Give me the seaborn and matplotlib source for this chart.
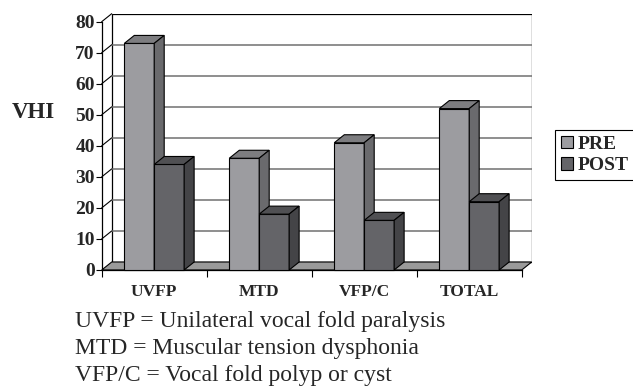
import matplotlib
matplotlib.use("Agg")
import numpy as np
import pandas as pd
import seaborn as sns
import matplotlib.pyplot as plt
from matplotlib.patches import Polygon, Rectangle, Patch
from matplotlib.colors import to_rgb

# Voice Handicap Index before and after treatment, per diagnosis group
groups = ["UVFP", "MTD", "VFP/C", "TOTAL"]
pre_vhi = [73, 36, 41, 52]
post_vhi = [34, 18, 16, 22]
phases = ["PRE", "POST"]
phase_colors = ["#9c9ca0", "#646468"]
y_ticks = [0, 10, 20, 30, 40, 50, 60, 70, 80]
footnotes = [
    "UVFP = Unilateral vocal fold paralysis",
    "MTD = Muscular tension dysphonia",
    "VFP/C = Vocal fold polyp or cyst",
]

df = pd.DataFrame({
    "group": groups * 2,
    "phase": [phases[0]] * len(groups) + [phases[1]] * len(groups),
    "vhi": pre_vhi + post_vhi,
})
palette = dict(zip(phases, phase_colors))

sns.set_theme(style="white")
plt.rcParams["font.family"] = ["Liberation Serif", "DejaVu Serif"]

W, H = 633, 389
fig = plt.figure(figsize=(W / 100, H / 100), dpi=100)
fig.patch.set_facecolor("white")

# pseudo-3D frame: front plane plus a receding depth offset (pixels)
front_left, front_right = 101.7, 521.7
floor_y, top_y = 270.0, 21.7
depth_dx, depth_dy = 10.0, 8.0
n = len(groups)
ymax = y_ticks[-1]
cat_px = (front_right - front_left) / n
unit_px = (floor_y - top_y) / ymax
ddx = depth_dx / cat_px
ddy = depth_dy / unit_px

ax = fig.add_axes([
    front_left / W,
    (H - floor_y) / H,
    (front_right + depth_dx - front_left) / W,
    (floor_y - (top_y - depth_dy)) / H,
])
ax.set_facecolor("none")

sns.barplot(
    data=df, x="group", y="vhi", hue="phase", hue_order=phases,
    palette=palette, width=0.57, saturation=1, edgecolor="black",
    linewidth=0.8, legend=False, ax=ax,
)
bars = sorted(ax.patches, key=lambda p: p.get_x())

ax.set_xlim(-0.5, n - 0.5 + ddx)
ax.set_ylim(0, ymax + ddy)

# back wall with gridlines
ax.add_patch(Rectangle((-0.5 + ddx, ddy), n, ymax, facecolor="white",
                       edgecolor="black", lw=0.9, zorder=0.5))
ax.hlines([v + ddy for v in y_ticks[1:-1]], -0.5 + ddx, n - 0.5 + ddx,
          color="#707070", lw=1.1, zorder=0.6)
# side wall edges
for v in y_ticks[1:]:
    ax.plot([-0.5, -0.5 + ddx], [v, v + ddy], color="black", lw=0.8,
            zorder=0.7, clip_on=False)
# floor
ax.add_patch(Polygon([(-0.5, 0), (n - 0.5, 0), (n - 0.5 + ddx, ddy),
                      (-0.5 + ddx, ddy)], closed=True, facecolor="#9a9a9a",
                     edgecolor="black", lw=0.8, zorder=0.8, clip_on=False))


def shade(c, f):
    r, g, b = to_rgb(c)
    return (r * f, g * f, b * f)


# give each bar a top and a side face
for i, bar in enumerate(bars):
    x0, w, h = bar.get_x(), bar.get_width(), bar.get_height()
    fc = bar.get_facecolor()
    z = 2 + i
    bar.set_zorder(z)
    bar.set_clip_on(False)
    top = Polygon([(x0, h), (x0 + w, h), (x0 + w + ddx, h + ddy),
                   (x0 + ddx, h + ddy)], closed=True,
                  facecolor=shade(fc, 0.8), edgecolor="black", lw=0.8,
                  zorder=z, clip_on=False)
    side = Polygon([(x0 + w, 0), (x0 + w + ddx, ddy), (x0 + w + ddx, h + ddy),
                    (x0 + w, h)], closed=True, facecolor=shade(fc, 0.68),
                   edgecolor="black", lw=0.8, zorder=z, clip_on=False)
    ax.add_patch(top)
    ax.add_patch(side)

# axes lines and ticks
for s in ["top", "right"]:
    ax.spines[s].set_visible(False)
ax.spines["left"].set_bounds(0, ymax)
ax.spines["bottom"].set_bounds(-0.5, n - 0.5)
for s in ["left", "bottom"]:
    ax.spines[s].set_color("black")
    ax.spines[s].set_linewidth(0.9)
    ax.spines[s].set_zorder(1)

ax.set_yticks(y_ticks)
ax.set_yticklabels([str(v) for v in y_ticks], fontsize=14, fontweight="bold")
ax.set_xticks(range(n))
ax.set_xticklabels(groups, fontsize=12.5, fontweight="bold")
ax.set_xticks(np.arange(-0.5, n, 1.0), minor=True)
ax.tick_params(axis="y", left=True, direction="out", length=4, width=0.8,
               color="black", pad=1)
ax.tick_params(axis="x", which="major", bottom=True, length=0, pad=10)
ax.tick_params(axis="x", which="minor", bottom=True, direction="out",
               length=5, width=0.8, color="black")
ax.set_xlabel("")
ax.set_ylabel("")
ax.grid(False)

fig.text(12 / W, 1 - 112 / H, "VHI", fontsize=16.5, fontweight="bold",
         ha="left", va="center")

handles = [Patch(facecolor=palette[p], edgecolor="black", lw=0.8, label=p)
           for p in phases]
leg = fig.legend(handles=handles, loc="center left",
                 bbox_to_anchor=(555 / W, 1 - 155 / H), frameon=True,
                 fancybox=False, framealpha=1, edgecolor="black",
                 borderpad=0.3, handlelength=0.6, handleheight=0.6,
                 handletextpad=0.25, labelspacing=0.25, borderaxespad=0,
                 prop={"weight": "bold", "size": 14})
leg.get_frame().set_linewidth(0.8)

for k, line in enumerate(footnotes):
    fig.text(75 / W, 1 - (321.7 + 26.7 * k) / H, line, fontsize=17,
             ha="left", va="center")

fig.savefig("out.png", dpi=100, facecolor="white")
